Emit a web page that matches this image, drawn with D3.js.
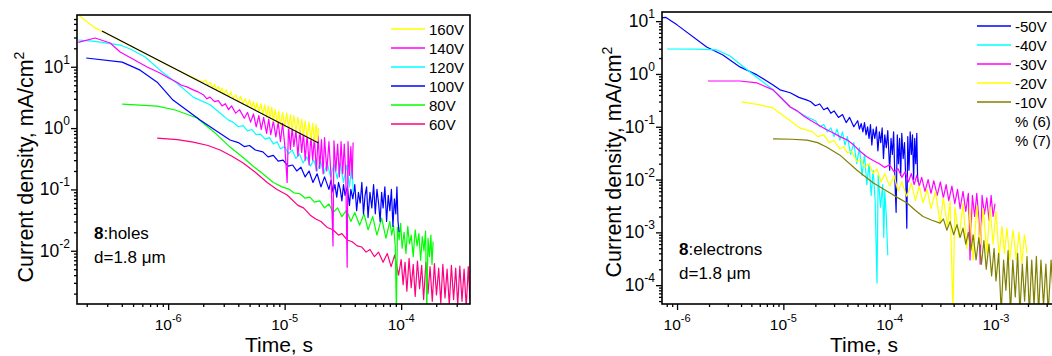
<!DOCTYPE html>
<html><head><meta charset="utf-8">
<script src="https://cdn.jsdelivr.net/npm/d3@7"></script>
<style>
body{margin:0;background:#fff}
svg{display:block;font-family:"Liberation Sans",Arial,sans-serif}
</style></head>
<body><svg id="c" width="1052" height="356"></svg>
<script>
// ---------- DATA : holes (left panel), [time s, current density mA/cm2] ----------
const holesLabels = ["160V","140V","120V","100V","80V","60V"];
const holesColors = ["#ffff00","#ff00ff","#00ffff","#0000ff","#00ff00","#ff0080"];
const holes160 = [[1.69e-7,70],[2.36e-7,43],[2.7e-7,38],[5e-7,20.8],[1e-6,10.5],[2e-6,5.6],[2.1e-6,6.1],[2.2e-6,4.9],[2.3e-6,5.6],[2.4e-6,4.5],[2.5e-6,5.2],[2.6e-6,4.15],[2.7e-6,4.8],[2.8e-6,3.85],[2.9e-6,4.5],[3.0e-6,3.6],[3.15e-6,4.2],[3.3e-6,3.3],[3.45e-6,3.9],[3.6e-6,3.0],[3.8e-6,3.5],[4.0e-6,2.7],[4.2e-6,3.3],[4.4e-6,2.5],[4.6e-6,3.0],[4.8e-6,2.25],[5.0e-6,2.9],[5.2e-6,2.1],[5.4e-6,2.7],[5.6e-6,1.95],[5.8e-6,2.6],[6.0e-6,1.8],[6.25e-6,2.5],[6.5e-6,1.65],[6.75e-6,2.4],[7.0e-6,1.5],[7.25e-6,2.3],[7.5e-6,1.4],[7.75e-6,2.2],[8.0e-6,1.3],[8.3e-6,2.0],[8.6e-6,1.2],[8.9e-6,1.9],[9.2e-6,1.1],[9.6e-6,1.8],[1.0e-5,1.05],[1.04e-5,1.75],[1.08e-5,1.0],[1.12e-5,1.65],[1.16e-5,0.95],[1.2e-5,1.6],[1.25e-5,0.88],[1.3e-5,1.5],[1.35e-5,0.8],[1.4e-5,1.4],[1.45e-5,0.75],[1.5e-5,1.3],[1.56e-5,0.7],[1.62e-5,1.25],[1.68e-5,0.64],[1.74e-5,1.2],[1.8e-5,0.6],[1.86e-5,1.15],[1.92e-5,0.62],[1.95e-5,1.0]];
const holes140 = [[1.69e-7,25],[2.36e-7,29.4],[3.18e-7,24.4],[3.87e-7,17.4],[6.6e-7,9.9],[8.5e-7,7.9],[1.0e-6,6.6],[1.19e-6,5.6],[1.3e-6,5.0],[1.45e-6,4.7],[1.64e-6,4.2],[1.8e-6,3.9],[2.0e-6,3.5],[2.15e-6,3.0],[2.29e-6,3.2],[2.5e-6,2.7],[2.7e-6,2.8],[2.9e-6,2.3],[3.1e-6,2.5],[3.3e-6,2.0],[3.5e-6,2.3],[3.8e-6,1.75],[4.1e-6,2.0],[4.5e-6,1.45],[4.8e-6,1.8],[5.1e-6,1.25],[5.4e-6,1.7],[5.7e-6,1.05],[6.0e-6,1.6],[6.3e-6,0.95],[6.6e-6,1.5],[7.0e-6,0.82],[7.3e-6,1.4],[7.6e-6,0.78],[8.0e-6,1.3],[8.4e-6,0.72],[8.8e-6,1.25],[9.2e-6,0.6],[9.6e-6,1.2],[1.0e-5,0.55],[1.05e-5,0.13],[1.08e-5,1.1],[1.12e-5,0.45],[1.16e-5,1.0],[1.2e-5,0.5],[1.25e-5,0.9],[1.3e-5,0.35],[1.35e-5,0.95],[1.4e-5,0.4],[1.45e-5,0.85],[1.5e-5,0.3],[1.56e-5,0.8],[1.62e-5,0.25],[1.68e-5,0.75],[1.74e-5,0.3],[1.8e-5,0.7],[1.87e-5,0.2],[1.94e-5,0.75],[2.0e-5,0.22],[2.07e-5,0.65],[2.14e-5,0.18],[2.2e-5,0.7],[2.3e-5,0.2],[2.4e-5,0.6],[2.5e-5,0.17],[2.6e-5,0.012],[2.65e-5,0.62],[2.75e-5,0.2],[2.85e-5,0.55],[2.95e-5,0.16],[3.05e-5,0.6],[3.15e-5,0.18],[3.25e-5,0.55],[3.35e-5,0.16],[3.44e-5,0.0054],[3.5e-5,0.6],[3.6e-5,0.17],[3.7e-5,0.5],[3.8e-5,0.15],[3.87e-5,0.58]];
const holes120 = [[1.69e-7,27.3],[2.36e-7,26],[3.87e-7,22.6],[4.72e-7,19.5],[6.35e-7,14.4],[8.5e-7,8.8],[1.19e-6,5.4],[1.64e-6,3.2],[2.29e-6,2.4],[2.8e-6,1.75],[3.3e-6,1.35],[3.6e-6,1.25],[4.0e-6,1.05],[4.4e-6,1.1],[4.8e-6,0.9],[5.2e-6,0.95],[5.7e-6,0.78],[6.2e-6,0.8],[6.8e-6,0.66],[7.4e-6,0.7],[8.0e-6,0.55],[8.6e-6,0.6],[9.2e-6,0.46],[1.0e-5,0.5],[1.08e-5,0.38],[1.16e-5,0.44],[1.25e-5,0.32],[1.34e-5,0.38],[1.44e-5,0.27],[1.55e-5,0.34],[1.66e-5,0.24],[1.78e-5,0.3],[1.9e-5,0.2],[2.03e-5,0.29],[2.17e-5,0.18],[2.32e-5,0.27],[2.48e-5,0.16],[2.65e-5,0.26],[2.83e-5,0.15],[3.0e-5,0.27],[3.2e-5,0.13],[3.4e-5,0.25],[3.6e-5,0.11],[3.8e-5,0.28],[3.87e-5,0.09]];
const holes100 = [[1.98e-7,13.9],[4.03e-7,11.9],[5.75e-7,8.8],[8.05e-7,5.6],[1.1e-6,2.86],[1.88e-6,1.35],[2.6e-6,0.9],[3.4e-6,0.64],[4.0e-6,0.58],[4.5e-6,0.5],[5.0e-6,0.52],[5.6e-6,0.44],[6.5e-6,0.41],[7.2e-6,0.34],[8.0e-6,0.36],[8.8e-6,0.29],[9.7e-6,0.3],[1.07e-5,0.24],[1.17e-5,0.25],[1.27e-5,0.2],[1.38e-5,0.23],[1.5e-5,0.16],[1.62e-5,0.2],[1.75e-5,0.13],[1.9e-5,0.18],[2.05e-5,0.11],[2.2e-5,0.16],[2.4e-5,0.1],[2.5e-5,0.14],[2.6e-5,0.09],[2.7e-5,0.12],[2.8e-5,0.075],[2.9e-5,0.13],[3.0e-5,0.1],[3.1e-5,0.065],[3.2e-5,0.12],[3.3e-5,0.08],[3.45e-5,0.11],[3.6e-5,0.055],[3.7e-5,0.1],[3.85e-5,0.07],[4.0e-5,0.12],[4.15e-5,0.045],[4.3e-5,0.09],[4.45e-5,0.06],[4.6e-5,0.13],[4.75e-5,0.04],[4.9e-5,0.08],[5.05e-5,0.11],[5.2e-5,0.035],[5.4e-5,0.09],[5.6e-5,0.05],[5.8e-5,0.12],[6.0e-5,0.04],[6.2e-5,0.1],[6.4e-5,0.06],[6.6e-5,0.03],[6.8e-5,0.09],[7.0e-5,0.05],[7.25e-5,0.11],[7.5e-5,0.03],[7.75e-5,0.08],[8.0e-5,0.045],[8.25e-5,0.1],[8.5e-5,0.025],[8.75e-5,0.07],[9.0e-5,0.04],[9.2e-5,0.11],[9.4e-5,0.03],[9.6e-5,0.02]];
const holes80 = [[4.03e-7,2.46],[8.05e-7,2.28],[1.15e-6,1.97],[1.77e-6,1.46],[2.5e-6,0.85],[3.4e-6,0.49],[4.5e-6,0.32],[5.5e-6,0.23],[6.5e-6,0.18],[8.0e-6,0.13],[9.5e-6,0.11],[1.1e-5,0.1],[1.2e-5,0.088],[1.35e-5,0.085],[1.5e-5,0.072],[1.65e-5,0.075],[1.8e-5,0.062],[2.0e-5,0.065],[2.2e-5,0.05],[2.4e-5,0.058],[2.6e-5,0.042],[2.85e-5,0.05],[3.1e-5,0.036],[3.4e-5,0.046],[3.7e-5,0.03],[4.0e-5,0.042],[4.4e-5,0.026],[4.8e-5,0.04],[5.2e-5,0.022],[5.7e-5,0.036],[6.2e-5,0.018],[6.8e-5,0.034],[7.4e-5,0.016],[8.0e-5,0.03],[8.3e-5,0.018],[8.6e-5,0.026],[8.9e-5,0.012],[9.1e-5,0.001],[9.3e-5,0.024],[9.6e-5,0.015],[9.9e-5,0.028],[1.02e-4,0.011],[1.06e-4,0.02],[1.1e-4,0.009],[1.14e-4,0.025],[1.18e-4,0.013],[1.22e-4,0.018],[1.27e-4,0.008],[1.32e-4,0.022],[1.37e-4,0.012],[1.42e-4,0.019],[1.47e-4,0.007],[1.52e-4,0.017],[1.57e-4,0.01],[1.62e-4,0.021],[1.66e-4,0.001],[1.7e-4,0.016],[1.75e-4,0.008],[1.8e-4,0.018],[1.84e-4,0.006],[1.88e-4,0.014]];
const holes60 = [[8.05e-7,0.687],[1.2e-6,0.65],[1.64e-6,0.59],[2.2e-6,0.52],[2.79e-6,0.44],[3.5e-6,0.35],[4.4e-6,0.27],[5.6e-6,0.19],[7.08e-6,0.13],[8.6e-6,0.1],[1.05e-5,0.081],[1.3e-5,0.055],[1.45e-5,0.05],[1.66e-5,0.038],[1.85e-5,0.033],[2.05e-5,0.03],[2.32e-5,0.024],[2.6e-5,0.022],[2.9e-5,0.018],[3.1e-5,0.019],[3.44e-5,0.015],[3.8e-5,0.014],[4.2e-5,0.012],[4.6e-5,0.0115],[5.0e-5,0.0095],[5.4e-5,0.0105],[5.9e-5,0.008],[6.4e-5,0.0095],[7.0e-5,0.0065],[7.6e-5,0.009],[8.2e-5,0.0055],[8.8e-5,0.0085],[9.5e-5,0.004],[1.0e-4,0.0072],[1.04e-4,0.0028],[1.08e-4,0.0065],[1.12e-4,0.0022],[1.17e-4,0.0075],[1.22e-4,0.0025],[1.27e-4,0.006],[1.32e-4,0.0018],[1.38e-4,0.0068],[1.44e-4,0.0024],[1.5e-4,0.0058],[1.56e-4,0.0016],[1.63e-4,0.0065],[1.7e-4,0.002],[1.77e-4,0.0055],[1.85e-4,0.0015],[1.93e-4,0.0062],[2.01e-4,0.0019],[2.1e-4,0.0052],[2.19e-4,0.0014],[2.28e-4,0.006],[2.38e-4,0.0017],[2.48e-4,0.005],[2.59e-4,0.0013],[2.7e-4,0.0058],[2.82e-4,0.0016],[2.94e-4,0.0052],[3.06e-4,0.0013],[3.19e-4,0.0056],[3.33e-4,0.0015],[3.47e-4,0.005],[3.62e-4,0.0012],[3.77e-4,0.0055],[3.9e-4,0.0016]];
const holesFit = [[2.7e-7,38.3],[1.95e-5,0.57]];

// ---------- DATA : electrons (right panel) ----------
const elecLabels = ["-50V","-40V","-30V","-20V","-10V","% (6)","% (7)"];
const elecColors = ["#0000ff","#00ffff","#ff00ff","#ffff00","#808000",null,null];
const elec50 = [[7.2e-7,11.5],[7.8e-7,11.8],[1.0e-6,8.5],[1.9e-6,3.25],[2.7e-6,2.29],[3.9e-6,1.36],[5.65e-6,0.96],[8.0e-6,0.62],[9.3e-6,0.5],[1.16e-5,0.44],[1.4e-5,0.36],[1.67e-5,0.32],[1.8e-5,0.3],[2.0e-5,0.25],[2.2e-5,0.27],[2.4e-5,0.21],[2.6e-5,0.23],[2.8e-5,0.18],[3.0e-5,0.2],[3.3e-5,0.15],[3.6e-5,0.17],[3.9e-5,0.12],[4.2e-5,0.15],[4.6e-5,0.1],[5.0e-5,0.13],[5.2e-5,0.09],[5.4e-5,0.115],[5.6e-5,0.08],[5.8e-5,0.12],[6.0e-5,0.07],[6.2e-5,0.1],[6.4e-5,0.06],[6.6e-5,0.11],[6.8e-5,0.045],[7.0e-5,0.09],[7.25e-5,0.06],[7.5e-5,0.1],[7.75e-5,0.035],[8.0e-5,0.08],[8.25e-5,0.05],[8.5e-5,0.095],[8.75e-5,0.025],[9.0e-5,0.07],[9.3e-5,0.04],[9.6e-5,0.085],[1.0e-4,0.015],[1.03e-4,0.06],[1.06e-4,0.03],[1.09e-4,0.08],[1.12e-4,0.01],[1.15e-4,0.0024],[1.18e-4,0.07],[1.21e-4,0.02],[1.24e-4,0.06],[1.27e-4,0.012],[1.3e-4,0.075],[1.34e-4,0.025],[1.38e-4,0.05],[1.42e-4,0.009],[1.45e-4,0.0012],[1.48e-4,0.065],[1.52e-4,0.015],[1.56e-4,0.08],[1.6e-4,0.03],[1.64e-4,0.07],[1.68e-4,0.01],[1.72e-4,0.06],[1.76e-4,0.02],[1.8e-4,0.075],[1.83e-4,0.012],[1.85e-4,0.009]];
const elec40 = [[8.05e-7,2.97],[1.5e-6,2.95],[2.38e-6,2.85],[3.15e-6,2.19],[4.85e-6,1.09],[8.0e-6,0.5],[1.16e-5,0.237],[1.67e-5,0.153],[2.0e-5,0.13],[2.2e-5,0.1],[2.4e-5,0.11],[2.6e-5,0.08],[2.8e-5,0.095],[3.0e-5,0.065],[3.2e-5,0.09],[3.4e-5,0.056],[3.6e-5,0.08],[3.8e-5,0.045],[4.0e-5,0.065],[4.3e-5,0.03],[4.6e-5,0.05],[4.9e-5,0.02],[5.2e-5,0.04],[5.5e-5,0.012],[5.8e-5,0.03],[6.1e-5,0.008],[6.4e-5,0.02],[6.7e-5,0.005],[7.0e-5,0.015],[7.3e-5,0.004],[7.6e-5,0.00011],[7.8e-5,0.012],[8.2e-5,0.003],[8.6e-5,0.008],[8.8e-5,0.0008],[9.0e-5,0.006],[9.3e-5,0.002],[9.6e-5,0.00037]];
const elec30 = [[1.95e-6,0.736],[3.9e-6,0.736],[5.65e-6,0.675],[8.0e-6,0.5],[9.3e-6,0.37],[1.16e-5,0.237],[1.35e-5,0.2],[1.55e-5,0.16],[1.78e-5,0.134],[2.1e-5,0.11],[2.5e-5,0.09],[2.9e-5,0.078],[3.4e-5,0.065],[4.0e-5,0.056],[4.6e-5,0.045],[5.3e-5,0.034],[6.1e-5,0.027],[7.0e-5,0.023],[8.0e-5,0.02],[9.0e-5,0.017],[1.0e-4,0.019],[1.1e-4,0.014],[1.2e-4,0.016],[1.3e-4,0.011],[1.4e-4,0.014],[1.5e-4,0.009],[1.6e-4,0.013],[1.7e-4,0.008],[1.8e-4,0.012],[1.9e-4,0.0075],[2.0e-4,0.011],[2.15e-4,0.006],[2.3e-4,0.01],[2.45e-4,0.0055],[2.6e-4,0.0095],[2.8e-4,0.005],[3.0e-4,0.009],[3.2e-4,0.0045],[3.4e-4,0.008],[3.6e-4,0.004],[3.85e-4,0.0075],[4.1e-4,0.0035],[4.35e-4,0.0065],[4.6e-4,0.0028],[4.9e-4,0.006],[5.2e-4,0.0025],[5.5e-4,0.0055],[5.7e-4,0.0003],[6.0e-4,0.005],[6.3e-4,0.002],[6.6e-4,0.0055],[6.9e-4,0.0018],[7.1e-4,0.00025],[7.4e-4,0.005],[7.8e-4,0.0022],[8.2e-4,0.0045],[8.6e-4,0.0017],[9.0e-4,0.005],[9.4e-4,0.002],[9.8e-4,0.0035]];
const elec20 = [[4.08e-6,0.295],[6.0e-6,0.26],[8.0e-6,0.227],[9.3e-6,0.18],[1.1e-5,0.14],[1.43e-5,0.095],[1.89e-5,0.08],[2.1e-5,0.065],[2.4e-5,0.07],[2.7e-5,0.05],[3.0e-5,0.055],[3.4e-5,0.038],[3.7e-5,0.042],[4.0e-5,0.032],[4.4e-5,0.034],[4.9e-5,0.022],[5.4e-5,0.024],[5.8e-5,0.017],[6.4e-5,0.02],[7.0e-5,0.013],[7.6e-5,0.016],[8.3e-5,0.009],[9.0e-5,0.013],[1.0e-4,0.0075],[1.1e-4,0.012],[1.2e-4,0.006],[1.3e-4,0.009],[1.45e-4,0.0048],[1.6e-4,0.0085],[1.75e-4,0.004],[1.9e-4,0.0075],[2.06e-4,0.0036],[2.25e-4,0.0065],[2.45e-4,0.0028],[2.7e-4,0.006],[2.98e-4,0.0015],[3.2e-4,0.0045],[3.5e-4,0.0013],[3.7e-4,0.004],[3.94e-4,0.00003],[4.1e-4,0.003],[4.5e-4,0.0008],[4.9e-4,0.0035],[5.3e-4,0.0005],[5.7e-4,0.003],[6.1e-4,0.0003],[6.6e-4,0.0032],[7.1e-4,0.0006],[7.6e-4,0.0028],[8.2e-4,0.0004],[8.8e-4,0.003],[9.4e-4,0.0006],[1.0e-3,0.0025],[1.07e-3,0.00035],[1.14e-3,0.0013],[1.2e-3,0.0004],[1.27e-3,0.0012],[1.35e-3,0.0003],[1.45e-3,0.0011],[1.55e-3,0.0003],[1.65e-3,0.001],[1.75e-3,0.00025],[1.85e-3,0.0009],[1.96e-3,0.0004]];
const elec10 = [[8.0e-6,0.059],[1.2e-5,0.058],[1.67e-5,0.056],[2.1e-5,0.05],[2.57e-5,0.041],[3.41e-5,0.029],[4.93e-5,0.015],[6.97e-5,0.0087],[1.0e-4,0.0056],[1.2e-4,0.0045],[1.46e-4,0.0036],[1.75e-4,0.0026],[2.06e-4,0.002],[2.5e-4,0.0017],[2.98e-4,0.0015],[3.2e-4,0.0018],[3.45e-4,0.0011],[3.7e-4,0.0016],[4.0e-4,0.0009],[4.3e-4,0.0014],[4.6e-4,0.0008],[4.9e-4,0.0012],[5.2e-4,0.0006],[5.5e-4,0.001],[5.8e-4,0.00045],[6.1e-4,0.0009],[6.5e-4,0.0003],[6.9e-4,0.0008],[7.3e-4,0.00025],[7.7e-4,0.0007],[8.1e-4,0.0002],[8.6e-4,0.0006],[9.1e-4,0.00015],[9.6e-4,0.0005],[1.0e-3,0.00012],[1.06e-3,0.0004],[1.12e-3,0.00003],[1.18e-3,0.0003],[1.24e-3,0.00008],[1.3e-3,0.00045],[1.37e-3,0.00003],[1.44e-3,0.0003],[1.52e-3,0.00006],[1.6e-3,0.0004],[1.68e-3,0.00003],[1.77e-3,0.00025],[1.86e-3,0.00005],[1.96e-3,0.00035],[2.06e-3,0.00003],[2.17e-3,0.0003],[2.28e-3,0.00004],[2.4e-3,0.00035],[2.52e-3,0.00003],[2.65e-3,0.0003],[2.8e-3,0.00004],[2.95e-3,0.00025],[3.1e-3,0.00003],[3.3e-3,0.0003],[3.5e-3,0.00004],[3.7e-3,0.00028],[3.9e-3,0.00003]];

// ---------- tick labels (decade exponents) ----------
const holesXExp = [-6,-5,-4];
const holesYExp = [-2,-1,0,1];
const elecXExp = [-6,-5,-4,-3];
const elecYExp = [-4,-3,-2,-1,0,1];

// ---------- drawing ----------
const svg = d3.select("#c");

function drawPanel(p){
  const x = d3.scaleLog().domain(p.xDomain).range([p.left,p.right]);
  const y = d3.scaleLog().domain(p.yDomain).range([p.bottom,p.top]);
  const cid = "clip-"+p.name;
  svg.append("clipPath").attr("id",cid).append("rect")
    .attr("x",p.left).attr("y",p.top).attr("width",p.right-p.left).attr("height",p.bottom-p.top);
  const g = svg.append("g").attr("clip-path",`url(#${cid})`);
  const line = d3.line().x(d=>x(d[0])).y(d=>y(d[1]));
  p.order.forEach(i=>{
    g.append("path").attr("d",line(p.series[i])).attr("fill","none")
      .attr("stroke",p.colors[i]).attr("stroke-width",1.2).attr("stroke-linejoin","round");
  });
  if(p.fit){
    g.append("path").attr("d",line(p.fit)).attr("fill","none").attr("stroke","#000").attr("stroke-width",1.1);
  }
  const minors = dom => { const out=[]; const lo=Math.floor(Math.log10(dom[0])), hi=Math.ceil(Math.log10(dom[1]));
    for(let e=lo;e<=hi;e++) for(let k=2;k<=9;k++){const v=k*Math.pow(10,e); if(v>=dom[0]&&v<=dom[1]) out.push(v);} return out; };
  const ax = svg.append("g");
  const bx = ax.append("g").attr("transform",`translate(0,${p.bottom})`);
  bx.call(d3.axisBottom(x).tickValues(p.xExp.map(e=>Math.pow(10,e))).tickSize(6).tickFormat(""));
  bx.append("g").call(d3.axisBottom(x).tickValues(minors(p.xDomain)).tickSize(3).tickFormat(""));
  const ly = ax.append("g").attr("transform",`translate(${p.left},0)`);
  ly.call(d3.axisLeft(y).tickValues(p.yExp.map(e=>Math.pow(10,e))).tickSize(6).tickFormat(""));
  ly.append("g").call(d3.axisLeft(y).tickValues(minors(p.yDomain)).tickSize(3).tickFormat(""));
  ax.selectAll(".domain").remove();
  ax.selectAll("line").attr("stroke","#000").attr("stroke-width",1.3);
  svg.append("rect").attr("x",p.left).attr("y",p.top).attr("width",p.right-p.left).attr("height",p.bottom-p.top)
    .attr("fill","none").attr("stroke","#000").attr("stroke-width",1.6);
  p.xExp.forEach(e=>{
    const t = svg.append("text").attr("x",x(Math.pow(10,e))).attr("y",p.bottom+25.5)
      .attr("text-anchor","middle").attr("font-size",15.5).attr("fill","#000");
    t.append("tspan").text("10");
    t.append("tspan").attr("dy",-8).attr("font-size",11).text(String(e));
  });
  p.yExp.forEach(e=>{
    const t = svg.append("text").attr("x",p.left-7).attr("y",y(Math.pow(10,e))+6)
      .attr("text-anchor","end").attr("font-size",17.5).attr("fill","#000");
    t.append("tspan").text("10");
    t.append("tspan").attr("dy",-9).attr("font-size",12).text(String(e));
  });
  svg.append("text").attr("x",p.xTitleX).attr("y",352).attr("text-anchor","middle")
    .attr("font-size",21).text("Time, s");
  const yt = svg.append("text").attr("transform",`translate(${p.yTitleX},${p.yTitleY}) rotate(-90)`)
    .attr("text-anchor","middle").attr("font-size",21.5);
  yt.append("tspan").text("Current density, mA/cm");
  yt.append("tspan").attr("dy",-9).attr("font-size",14).text("2");
  const a = svg.append("text").attr("x",p.left+17).attr("y",p.annY).attr("font-size",17);
  a.append("tspan").attr("font-weight","bold").text("8");
  a.append("tspan").text(":"+p.annText);
  svg.append("text").attr("x",p.left+17).attr("y",p.annY+24).attr("font-size",17).text("d=1.8 \u03bcm");
  p.labels.forEach((lab,i)=>{
    const ly0 = p.legY + i*p.legStep;
    if(p.colors[i]) svg.append("line").attr("x1",p.legX).attr("x2",p.legX+34).attr("y1",ly0).attr("y2",ly0)
      .attr("stroke",p.colors[i]).attr("stroke-width",1.5);
    svg.append("text").attr("x",p.legX+38).attr("y",ly0+5.5).attr("font-size",15).text(lab);
  });
}

drawPanel({name:"holes", left:77, right:470, top:15, bottom:304,
  xDomain:[1.65e-7,3.9e-4], yDomain:[1.355e-3,69.8],
  series:[holes160,holes140,holes120,holes100,holes80,holes60], colors:holesColors, labels:holesLabels,
  order:[5,4,3,2,1,0], fit:holesFit, xExp:holesXExp, yExp:holesYExp,
  xTitleX:279, yTitleX:33, yTitleY:167, annText:"holes", annY:239,
  legX:391, legY:29, legStep:19});

drawPanel({name:"elec", left:662, right:1062, top:12, bottom:304,
  xDomain:[7.22e-7,4.18e-3], yDomain:[4.4e-5,14.9],
  series:[elec50,elec40,elec30,elec20,elec10], colors:elecColors, labels:elecLabels,
  order:[0,1,2,3,4], fit:null, xExp:elecXExp, yExp:elecYExp,
  xTitleX:864, yTitleX:621, yTitleY:162, annText:"electrons", annY:255,
  legX:977, legY:26, legStep:19});
</script>
</body></html>
